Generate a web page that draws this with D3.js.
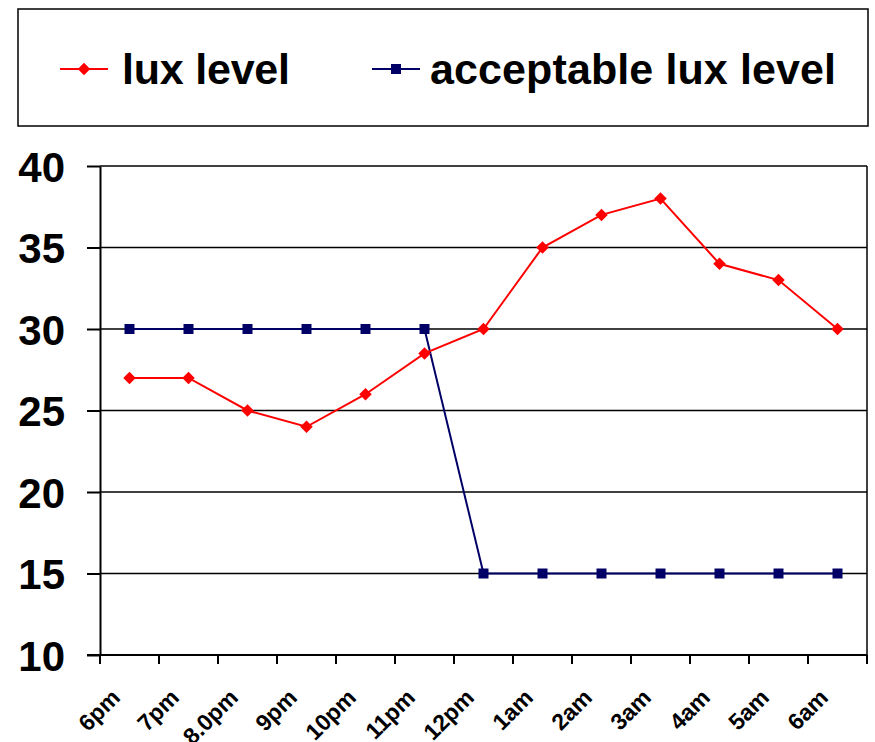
<!DOCTYPE html>
<html>
<head>
<meta charset="utf-8">
<script src="https://cdn.jsdelivr.net/npm/d3@7"></script>
<style>
  body { margin: 0; background: #fff; }
  text { font-family: "Liberation Sans", Arial, sans-serif; font-weight: bold; }
</style>
</head>
<body>
<div id="chart"></div>
<script>
// data
const hours = ["6pm", "7pm", "8.0pm", "9pm", "10pm", "11pm", "12pm", "1am", "2am", "3am", "4am", "5am", "6am"];
const luxLevel = [27, 27, 25, 24, 26, 28.5, 30, 35, 37, 38, 34, 33, 30];
const acceptableLux = [30, 30, 30, 30, 30, 30, 15, 15, 15, 15, 15, 15, 15];
const yTicks = [10, 15, 20, 25, 30, 35, 40];
const seriesNames = ["lux level", "acceptable lux level"];

const ctx = {
    W: 875,
    H: 742,
    plot: { left: 100, right: 867, top: 166, bottom: 655 },
    red: "#ff0000",
    navy: "#000066"
};

function createViz() {
    const svg = d3.select("#chart").append("svg")
        .attr("width", ctx.W)
        .attr("height", ctx.H);

    const p = ctx.plot;

    const x = d3.scaleBand()
        .domain(hours)
        .range([p.left, p.right]);

    const y = d3.scaleLinear()
        .domain([10, 40])
        .range([p.bottom, p.top]);

    const cx = d => x(d) + x.bandwidth() / 2;

    // gridlines
    svg.append("g")
        .selectAll("line")
        .data(yTicks.filter(t => t > 10))
        .join("line")
        .attr("x1", p.left).attr("x2", p.right)
        .attr("y1", d => y(d)).attr("y2", d => y(d))
        .attr("stroke", "#000")
        .attr("stroke-width", 1.5);

    // right frame line
    svg.append("line")
        .attr("x1", p.right).attr("x2", p.right)
        .attr("y1", p.top).attr("y2", p.bottom)
        .attr("stroke", "#000")
        .attr("stroke-width", 1.5);

    // y axis
    const yAxis = svg.append("g")
        .attr("transform", `translate(${p.left},0)`)
        .call(d3.axisLeft(y).tickValues(yTicks).tickSize(13).tickPadding(22).tickSizeOuter(0));
    yAxis.select(".domain").attr("stroke-width", 2);
    yAxis.selectAll(".tick line").attr("stroke-width", 2);
    yAxis.selectAll(".tick text")
        .attr("font-size", 42)
        .attr("font-family", "Liberation Sans, Arial, sans-serif")
        .attr("font-weight", "bold")
        .attr("dy", "0.36em");

    // x axis: ticks at band edges
    const xAxisG = svg.append("g");
    xAxisG.append("line")
        .attr("x1", p.left - 13).attr("x2", p.right)
        .attr("y1", p.bottom).attr("y2", p.bottom)
        .attr("stroke", "#000")
        .attr("stroke-width", 2);
    const edges = hours.map(h => x(h)).concat([x(hours[hours.length - 1]) + x.bandwidth()]);
    xAxisG.selectAll(".xtick")
        .data(edges)
        .join("line")
        .attr("class", "xtick")
        .attr("x1", d => d).attr("x2", d => d)
        .attr("y1", p.bottom).attr("y2", p.bottom + 9)
        .attr("stroke", "#000")
        .attr("stroke-width", 2);
    xAxisG.selectAll(".xlabel")
        .data(hours)
        .join("text")
        .attr("class", "xlabel")
        .attr("text-anchor", "end")
        .attr("font-size", 23)
        .attr("transform", d => `translate(${cx(d) - 8},${p.bottom + 44}) rotate(-45)`)
        .text(d => d);

    // lines
    const line = d3.line()
        .x((d, i) => cx(hours[i]))
        .y(d => y(d));

    svg.append("path")
        .datum(acceptableLux)
        .attr("d", line)
        .attr("fill", "none")
        .attr("stroke", ctx.navy)
        .attr("stroke-width", 2);

    svg.append("path")
        .datum(luxLevel)
        .attr("d", line)
        .attr("fill", "none")
        .attr("stroke", ctx.red)
        .attr("stroke-width", 2);

    const diamond = d3.symbol().type(d3.symbolDiamond2).size(100);
    const square = d3.symbol().type(d3.symbolSquare).size(100);

    svg.append("g")
        .selectAll("path")
        .data(acceptableLux)
        .join("path")
        .attr("d", square)
        .attr("transform", (d, i) => `translate(${cx(hours[i])},${y(d)})`)
        .attr("fill", ctx.navy);

    svg.append("g")
        .selectAll("path")
        .data(luxLevel)
        .join("path")
        .attr("d", diamond)
        .attr("transform", (d, i) => `translate(${cx(hours[i])},${y(d)})`)
        .attr("fill", ctx.red);

    // legend
    const lg = svg.append("g");
    lg.append("rect")
        .attr("x", 18).attr("y", 9)
        .attr("width", 850).attr("height", 117)
        .attr("fill", "#fff")
        .attr("stroke", "#000")
        .attr("stroke-width", 1.5);

    const legendItems = [
        { name: seriesNames[0], color: ctx.red, sym: diamond, x0: 60, tx: 122 },
        { name: seriesNames[1], color: ctx.navy, sym: square, x0: 372, tx: 430 }
    ];
    const ly = 69;
    legendItems.forEach(it => {
        lg.append("line")
            .attr("x1", it.x0).attr("x2", it.x0 + 48)
            .attr("y1", ly).attr("y2", ly)
            .attr("stroke", it.color)
            .attr("stroke-width", 2);
        lg.append("path")
            .attr("d", it.sym)
            .attr("transform", `translate(${it.x0 + 24},${ly})`)
            .attr("fill", it.color);
        lg.append("text")
            .attr("x", it.tx)
            .attr("y", 84)
            .attr("font-size", 43)
            .attr("textLength", it.tx === 122 ? 168 : 406)
            .text(it.name);
    });
}

createViz();
</script>
</body>
</html>
